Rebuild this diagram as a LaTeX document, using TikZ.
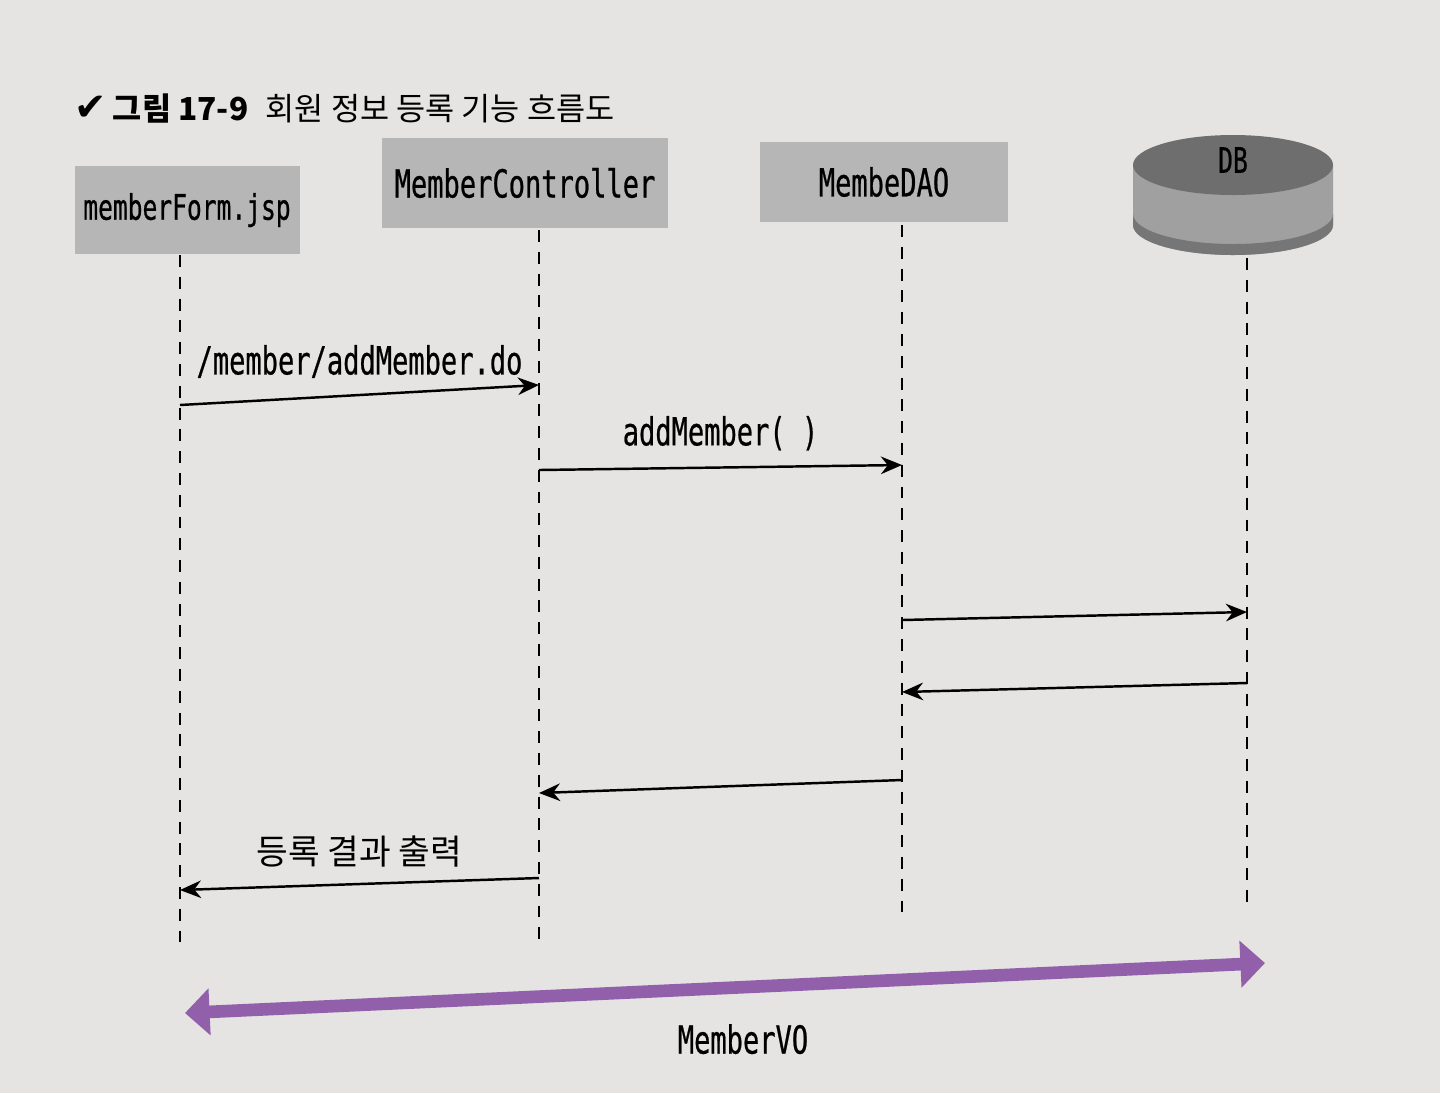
\documentclass[tikz,border=0pt]{standalone}
\usepackage{fontspec}
\usetikzlibrary{arrows.meta,positioning}
\newfontfamily\codefont[FakeStretch=0.7,FakeBold=0.6]{DejaVu Sans Mono}
\newfontfamily\krfont{Noto Sans CJK KR}
\newfontfamily\symfont{DejaVu Sans}
\definecolor{paper}{RGB}{229,228,226}
\definecolor{boxgray}{RGB}{182,182,182}
\definecolor{dbtop}{RGB}{110,110,110}
\definecolor{dbside}{RGB}{160,160,160}
\definecolor{dbband}{RGB}{118,118,118}
\definecolor{vopurple}{RGB}{146,96,170}
\tikzset{
  obj/.style={fill=boxgray, inner sep=0pt, font=\codefont\fontsize{11}{13}\selectfont},
  life/.style={dash pattern=on 3.4pt off 2.8pt, line width=0.7pt},
  msg/.style={-{Stealth[length=6pt,width=5pt]}, line width=0.7pt},
  lbl/.style={inner sep=1.5pt, font=\codefont\fontsize{11}{13}\selectfont},
  krlbl/.style={inner sep=1.5pt, font=\krfont\fontsize{9.8}{11}\selectfont},
  vo/.style={{Triangle[length=7pt,width=13pt]}-{Triangle[length=7pt,width=13pt]}, line width=3.6pt, draw=vopurple},
}
\begin{document}
\begin{tikzpicture}
  \fill[paper] (0,0) rectangle (14.4,-10.93);
  \useasboundingbox (0,0) rectangle (14.4,-10.93);

  % title
  \node[anchor=west, inner sep=0pt] (title) at (0.74,-1.08)
    {{\symfont\fontsize{11}{13}\selectfont ✔}\,{\krfont\fontsize{9}{11}\selectfont\bfseries 그림 17-9}\enspace{\krfont\fontsize{9}{11}\selectfont 회원 정보 등록 기능 흐름도}};

  % objects
  \node[obj, minimum width=2.25cm, minimum height=0.88cm, font=\codefont\fontsize{10}{12}\selectfont] (form) at (1.87,-2.10) {memberForm.jsp};
  \node[obj, minimum width=2.86cm, minimum height=0.90cm] (ctl) at (5.25,-1.83) {MemberController};
  \node[obj, minimum width=2.48cm, minimum height=0.80cm] (dao) at (8.84,-1.82) {MembeDAO};

  % DB cylinder
  \fill[dbside] (11.33,-1.65) -- (11.33,-2.25) arc[start angle=180, end angle=360, x radius=1.0, y radius=0.30] -- (13.33,-1.65) -- cycle;
  \fill[dbband] (11.33,-2.14) arc[start angle=180, end angle=360, x radius=1.0, y radius=0.30] -- (13.33,-2.25) arc[start angle=0, end angle=-180, x radius=1.0, y radius=0.30] -- cycle;
  \fill[dbtop] (12.33,-1.65) ellipse[x radius=1.0, y radius=0.30];
  \node[lbl, font=\codefont\fontsize{10}{12}\selectfont] (db) at (12.33,-1.60) {DB};

  % lifelines
  \coordinate (formA) at (1.80,-2.55);
  \coordinate (formB) at (1.80,-9.50);
  \coordinate (ctlA) at (5.39,-2.30);
  \coordinate (ctlB) at (5.39,-9.40);
  \coordinate (daoA) at (9.02,-2.25);
  \coordinate (daoB) at (9.02,-9.20);
  \coordinate (dbA) at (12.47,-2.58);
  \coordinate (dbB) at (12.47,-9.05);
  \draw[life] (formA) -- (formB);
  \draw[life] (ctlA) -- (ctlB);
  \draw[life] (daoA) -- (daoB);
  \draw[life] (dbA) -- (dbB);

  % messages
  \draw[msg] (formA |- 0,-4.05) -- node[lbl, above=3pt] {/member/addMember.do} (ctlA |- 0,-3.85);
  \draw[msg] (ctlA |- 0,-4.70) -- node[lbl, above=3pt] {addMember( )} (daoA |- 0,-4.65);
  \draw[msg] (daoA |- 0,-6.20) -- (dbA |- 0,-6.12);
  \draw[msg] (dbA |- 0,-6.83) -- (daoA |- 0,-6.92);
  \draw[msg] (daoA |- 0,-7.80) -- (ctlA |- 0,-7.93);
  \draw[msg] (ctlA |- 0,-8.78) -- node[krlbl, above=3pt] {등록 결과 출력} (formA |- 0,-8.90);

  % value object
  \coordinate (voL) at (1.85,-10.13);
  \coordinate (voR) at (12.65,-9.63);
  \draw[vo] (voL) -- node[lbl, below=7pt, xshift=0.18cm] {MemberVO} (voR);
\end{tikzpicture}
\end{document}
